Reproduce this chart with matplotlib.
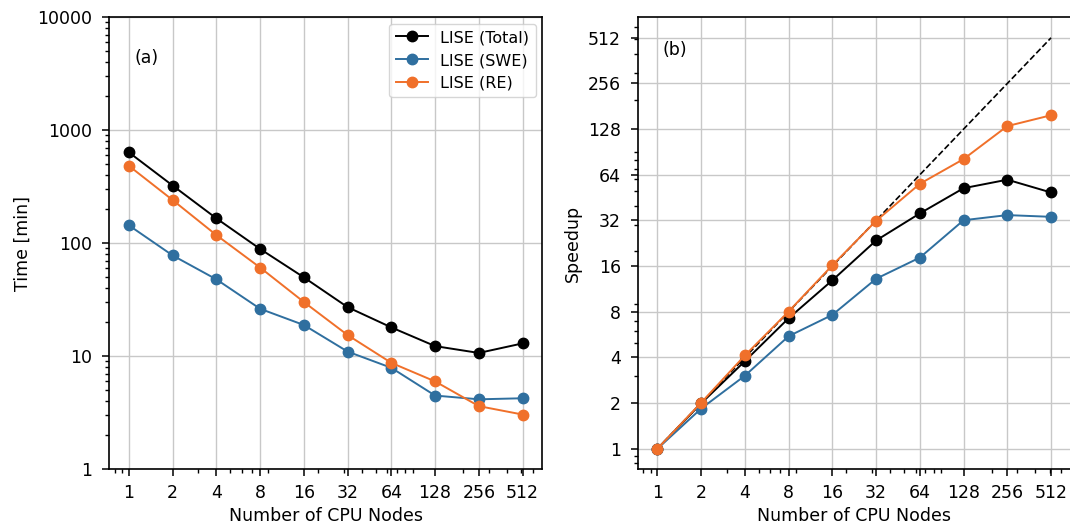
import numpy as np
import matplotlib.pyplot as plt
from matplotlib.ticker import FixedLocator, FixedFormatter, LogLocator, NullFormatter

# data
nodes = [1, 2, 4, 8, 16, 32, 64, 128, 256, 512]

time_total = [637, 324, 166, 89, 49.9, 27.2, 18.0, 12.3, 10.7, 13.0]
time_swe = [144, 78, 47.9, 26.3, 18.9, 11.0, 7.9, 4.49, 4.16, 4.25]
time_re = [484, 241, 118, 60.9, 30.2, 15.4, 8.74, 5.99, 3.62, 3.05]

speedup_total = [1, 1.99, 3.78, 7.25, 12.9, 23.6, 35.6, 52.2, 59.4, 48.9]
speedup_swe = [1, 1.84, 3.03, 5.52, 7.63, 13.2, 18.2, 32.1, 34.7, 33.8]
speedup_re = [1, 2.01, 4.12, 8.03, 16.2, 31.8, 55.8, 81.2, 134, 158]
speedup_ideal = [1, 512]
ideal_nodes = [1, 512]

x_labels = ['1', '2', '4', '8', '16', '32', '64', '128', '256', '512']
time_ticks = [1, 10, 100, 1000, 10000]
time_labels = ['1', '10', '100', '1000', '10000']
speed_ticks = [1, 2, 4, 8, 16, 32, 64, 128, 256, 512]
speed_labels = ['1', '2', '4', '8', '16', '32', '64', '128', '256', '512']

c_black = 'black'
c_blue = '#2f6f9f'
c_orange = '#f0702a'

plt.rcParams['font.size'] = 12.5

fig = plt.figure(figsize=(10.7, 5.29), dpi=100)
ax1 = fig.add_axes([0.1021, 0.1129, 0.4047, 0.8545])
ax2 = fig.add_axes([0.5960, 0.1129, 0.4047, 0.8545])

style = dict(marker='o', markersize=7.5, linewidth=1.4)

# (a) time
ax1.plot(nodes, time_total, color=c_black, label='LISE (Total)', **style)
ax1.plot(nodes, time_swe, color=c_blue, label='LISE (SWE)', **style)
ax1.plot(nodes, time_re, color=c_orange, label='LISE (RE)', **style)
ax1.set_xscale('log')
ax1.set_yscale('log')
ax1.set_ylim(1, 10000)
ax1.yaxis.set_major_locator(FixedLocator(time_ticks))
ax1.yaxis.set_major_formatter(FixedFormatter(time_labels))
ax1.set_ylabel('Time [min]')
ax1.text(0.059, 0.91, '(a)', transform=ax1.transAxes, va='center', ha='left')
ax1.legend(loc='upper right', fontsize=11.5, handlelength=2.0, borderaxespad=0.4)

# (b) speedup
ax2.plot(ideal_nodes, speedup_ideal, color='black', linestyle='--', linewidth=1.2)
ax2.plot(nodes, speedup_total, color=c_black, **style)
ax2.plot(nodes, speedup_swe, color=c_blue, **style)
ax2.plot(nodes, speedup_re, color=c_orange, **style)
ax2.set_xscale('log')
ax2.set_yscale('log')
ax2.yaxis.set_major_locator(FixedLocator(speed_ticks))
ax2.yaxis.set_major_formatter(FixedFormatter(speed_labels))
ax2.yaxis.set_minor_locator(LogLocator(base=10, subs=np.arange(2, 10)))
ax2.yaxis.set_minor_formatter(NullFormatter())
ax2.set_ylabel('Speedup')
ax2.text(0.058, 0.928, '(b)', transform=ax2.transAxes, va='center', ha='left')

for ax in (ax1, ax2):
    ax.xaxis.set_major_locator(FixedLocator(nodes))
    ax.xaxis.set_major_formatter(FixedFormatter(x_labels))
    ax.xaxis.set_minor_locator(LogLocator(base=10, subs=np.arange(2, 10)))
    ax.xaxis.set_minor_formatter(NullFormatter())
    ax.set_xlabel('Number of CPU Nodes')
    ax.tick_params(which='major', length=5, width=1.1)
    ax.tick_params(which='minor', length=3, width=1.0)
    ax.tick_params(axis='x', which='major', pad=5.5)
    ax.tick_params(axis='y', which='major', pad=7)
    ax.grid(True, which='major', color='#c8c8c8', linewidth=1.0)
    ax.set_axisbelow(True)
    for s in ax.spines.values():
        s.set_linewidth(1.2)

fig.savefig('out.png', dpi=100)
